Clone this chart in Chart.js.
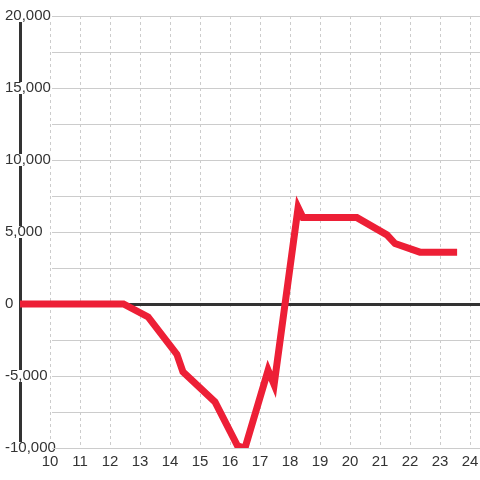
<!DOCTYPE html>
<html>
<head>
<meta charset="utf-8">
<style>
  html, body { margin: 0; padding: 0; background: #fff; }
  #wrap { width: 480px; height: 480px; }
</style>
<script src="https://cdn.jsdelivr.net/npm/chart.js@4"></script>
</head>
<body>
<div id="wrap"><canvas id="myChart"></canvas></div>
<script>
// values
const hours = [9, 12.45, 13.27, 14.23, 14.43, 15.5, 16.25, 16.5, 17.27, 17.47, 18.27, 18.43, 20.23, 21.23, 21.5, 22.33, 23.57];
const values = [0, 0, -900, -3500, -4700, -6800, -9850, -10000, -4600, -5600, 6700, 6000, 6000, 4800, 4200, 3600, 3600];
const xTicks = [10, 11, 12, 13, 14, 15, 16, 17, 18, 19, 20, 21, 22, 23, 24];
const yMin = -10000;
const yMax = 20000;
const yLabelStep = 5000; // only every other gridline gets a label

const ctx = document.getElementById('myChart');

// light grey horizontal lines, they start right of the y labels
const softGrid = {
  id: 'softGrid',
  beforeDatasetsDraw(chart) {
    const y = chart.scales.y;
    const x = chart.scales.x;
    const c = chart.ctx;
    const left = x.getPixelForValue(xTicks[0]) + 2;
    c.save();
    c.strokeStyle = '#cccccc';
    c.lineWidth = 1;
    y.ticks.forEach(t => {
      if (t.value === 0) return;
      const py = Math.round(y.getPixelForValue(t.value)) + 0.5;
      c.beginPath();
      c.moveTo(left, py);
      c.lineTo(chart.chartArea.right, py);
      c.stroke();
    });
    c.restore();
  }
};

new Chart(ctx, {
  type: 'line',
  data: {
    datasets: [{
      data: hours.map((h, i) => ({ x: h, y: values[i] })),
      borderColor: '#ed1f36',
      borderWidth: 7,
      pointRadius: 0,
      tension: 0,
      borderJoinStyle: 'miter',
      borderCapStyle: 'butt'
    }]
  },
  options: {
    responsive: true,
    maintainAspectRatio: false,
    animation: false,
    layout: { padding: { left: 3, top: 16, right: 0, bottom: 4 } },
    plugins: { legend: { display: false }, tooltip: { enabled: false } },
    scales: {
      x: {
        type: 'linear',
        min: 9,
        max: 24.333,
        afterBuildTicks: s => {
          s.ticks = xTicks.map(v => ({ value: v }));
        },
        afterFit: s => { s.paddingLeft = 0; s.paddingRight = 0; },
        ticks: {
          padding: 5,
          z: 1,
          color: '#333',
          font: { family: '"Liberation Sans", Arial, sans-serif', size: 15 },
          maxRotation: 0,
          autoSkip: false
        },
        grid: {
          color: '#cccccc',
          lineWidth: 1,
          drawTicks: false
        },
        border: { display: false, dash: [3, 3] }
      },
      y: {
        min: yMin,
        max: yMax,
        afterFit: s => { s.width = 17; },
        ticks: {
          stepSize: 2500,
          mirror: true,
          padding: -15,
          color: '#333',
          font: { family: '"Liberation Sans", Arial, sans-serif', size: 15, lineHeight: 0.8 },
          callback: v => (v % yLabelStep === 0 ? v.toLocaleString('en-US') : ''),
          showLabelBackdrop: true,
          backdropColor: c => (c.tick && c.tick.value % yLabelStep === 0 ? '#ffffff' : 'rgba(0,0,0,0)'),
          backdropPadding: c => (c.tick && c.tick.value === yMin
            ? { top: 6, bottom: 0, left: 1, right: 1 }
            : { top: 0, bottom: 0, left: 1, right: 1 })
        },
        grid: {
          drawTicks: false,
          color: c => (c.tick && c.tick.value === 0 ? '#333333' : 'rgba(0,0,0,0)'),
          lineWidth: c => (c.tick && c.tick.value === 0 ? 3 : 1)
        },
        border: { display: true, color: '#333333', width: 3 }
      }
    }
  },
  plugins: [softGrid]
});
</script>
</body>
</html>
